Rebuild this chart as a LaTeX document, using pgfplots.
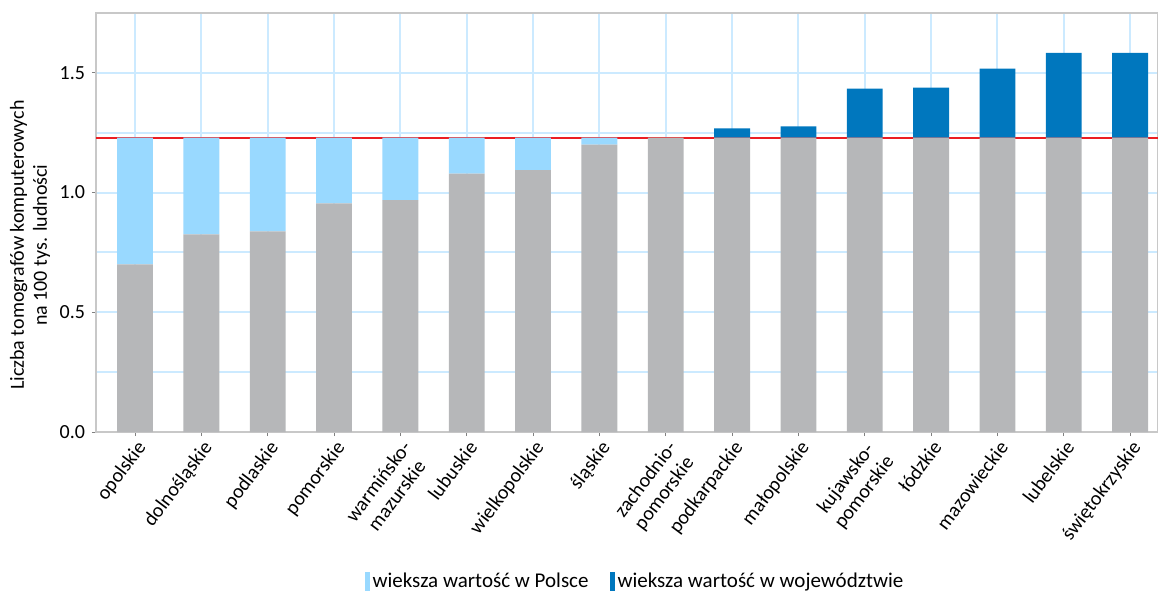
\documentclass[border=0pt]{standalone}
\usepackage{fontspec}
\setmainfont{Carlito}
\usepackage{pgfplots}
\pgfplotsset{compat=1.18}

\definecolor{barGray}{RGB}{182,183,185}
\definecolor{lightBlue}{RGB}{153,217,255}
\definecolor{darkBlue}{RGB}{0,119,190}
\definecolor{lineRed}{RGB}{235,30,35}
\definecolor{gridBlue}{RGB}{204,234,255}
\definecolor{frameGray}{RGB}{200,200,200}

% national level = 1.23; gray = min(value, 1.23), the rest stacked on top
\pgfplotstableread{
x  base   below  above
0  0.700  0.530  0
1  0.825  0.405  0
2  0.838  0.392  0
3  0.955  0.275  0
4  0.968  0.262  0
5  1.079  0.151  0
6  1.094  0.136  0
7  1.200  0.030  0
8  1.230  0      0
9  1.230  0      0.038
10 1.230  0      0.047
11 1.230  0      0.204
12 1.230  0      0.208
13 1.230  0      0.288
14 1.230  0      0.354
15 1.230  0      0.354
}\woj

\begin{document}
\begin{tikzpicture}
  \begin{axis}[
    scale only axis,
    width=531pt, height=209.5pt,
    ybar stacked, bar width=0.54,
    xmin=-0.588, xmax=15.42,
    ymin=0, ymax=1.75,
    font=\fontsize{10}{11.5}\selectfont,
    xtick={0,...,15},
    xticklabels={opolskie,dolnośląskie,podlaskie,pomorskie,{warmińsko-\\mazurskie},lubuskie,wielkopolskie,śląskie,{zachodnio-\\pomorskie},podkarpackie,małopolskie,{kujawsko-\\pomorskie},łódzkie,mazowieckie,lubelskie,świętokrzyskie},
    xticklabel style={rotate=53, anchor=north east, align=center, inner sep=1pt},
    ytick={0,0.5,1,1.5},
    minor ytick={0.25,0.75,1.25},
    yticklabel style={/pgf/number format/.cd, fixed, fixed zerofill, precision=1, assume math mode=true},
    xmajorgrids, ymajorgrids, yminorgrids,
    major grid style={draw=gridBlue, line width=1pt},
    minor grid style={draw=gridBlue, line width=1pt},
    axis line style={draw=frameGray, line width=0.6pt},
    tick style={draw=gray, line width=0.5pt},
    tick align=outside, major tick length=2pt, minor tick length=0pt,
    xtick pos=bottom, ytick pos=left,
    ylabel={Liczba tomografów komputerowych\\na 100 tys. ludności},
    ylabel style={align=center, at={(axis description cs:-0.062,0.446)}, anchor=center},
    legend style={at={(axis description cs:0.508,-0.358)}, anchor=center,
      draw=none, fill=none, legend columns=2, inner sep=0pt,
      font=\fontsize{10.5}{12}\selectfont,
      /tikz/every even column/.append style={column sep=9pt},
      nodes={inner xsep=1.5pt}},
    legend cell align=left,
  ]
  \addplot[fill=barGray, draw=none, forget plot] table[x=x, y=base] {\woj};
  \addplot[fill=lightBlue, draw=none,
    legend image code/.code={\fill[lightBlue] (0pt,-0.45em) rectangle (2.5pt,0.5em);}]
    table[x=x, y=below] {\woj};
  \addplot[fill=darkBlue, draw=none,
    legend image code/.code={\fill[darkBlue] (0pt,-0.45em) rectangle (2.5pt,0.5em);}]
    table[x=x, y=above] {\woj};
  \draw[draw=lineRed, line width=1pt] (axis cs:-0.588,1.23) -- (axis cs:15.42,1.23);
  \legend{wieksza wartość w Polsce, wieksza wartość w województwie}
  \end{axis}
  \pgfresetboundingbox
  \useasboundingbox ([xshift=-48pt,yshift=-79.5pt]current axis.south west)
    rectangle ([yshift=6.5pt]current axis.north east);
\end{tikzpicture}
\end{document}
